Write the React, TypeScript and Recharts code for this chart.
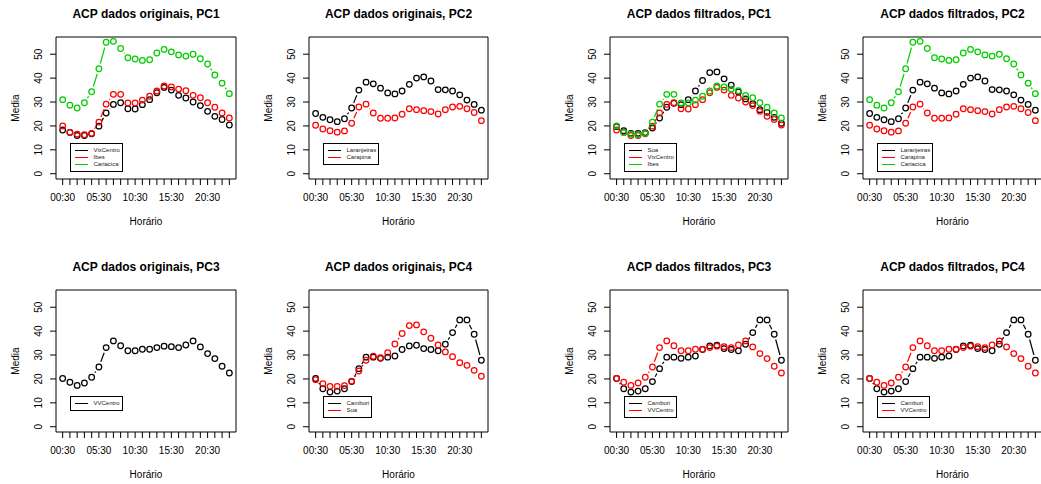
import { LineChart, Line, XAxis, YAxis, Legend, ReferenceArea } from "recharts";

// hourly means, 00:30 .. 23:30
const hours = [
  "00:30", "01:30", "02:30", "03:30", "04:30", "05:30", "06:30", "07:30",
  "08:30", "09:30", "10:30", "11:30", "12:30", "13:30", "14:30", "15:30",
  "16:30", "17:30", "18:30", "19:30", "20:30", "21:30", "22:30", "23:30",
];
const hourTickLabels = ["00:30", "05:30", "10:30", "15:30", "20:30"];
const mediaTicks = [0, 10, 20, 30, 40, 50];

const vixCentro = [18.3, 17.3, 16.0, 16.0, 16.7, 19.9, 25.4, 29.0, 29.7, 27.2, 27.1, 28.9, 31.0, 33.9, 36.1, 35.0, 32.8, 31.7, 30.0, 28.5, 26.1, 24.0, 22.7, 20.4];
const ibes = [20.0, 17.3, 16.6, 16.3, 16.9, 21.6, 29.1, 33.2, 33.2, 29.6, 29.6, 30.8, 32.4, 34.6, 36.7, 36.3, 35.4, 34.7, 32.8, 31.8, 29.7, 27.8, 25.4, 23.3];
const cariacica = [31.0, 28.7, 27.5, 29.7, 34.3, 43.9, 55.0, 55.4, 52.4, 48.5, 48.0, 47.4, 47.7, 50.5, 52.0, 51.0, 49.7, 49.2, 50.0, 48.1, 45.9, 41.3, 37.9, 33.5];
const laranjeiras = [25.2, 23.6, 22.6, 21.8, 23.0, 27.5, 35.0, 38.3, 37.6, 35.8, 33.8, 33.4, 34.6, 37.4, 40.0, 40.5, 38.8, 35.2, 35.1, 34.6, 33.0, 30.8, 29.0, 26.6];
const carapina = [20.3, 18.7, 18.0, 17.4, 17.9, 21.1, 27.9, 29.1, 25.4, 23.2, 23.2, 23.3, 24.9, 27.2, 26.8, 26.4, 26.0, 25.0, 26.8, 27.9, 28.2, 27.2, 25.6, 22.2];
const vvCentro = [20.2, 18.6, 17.3, 18.3, 20.7, 25.0, 33.1, 35.9, 33.9, 31.8, 31.8, 32.4, 32.4, 33.1, 33.7, 33.5, 33.1, 34.2, 35.9, 33.4, 30.6, 28.5, 25.3, 22.5];
const camburi = [20.2, 15.9, 14.5, 14.9, 15.9, 18.9, 24.3, 29.1, 29.1, 28.6, 29.1, 29.6, 32.3, 33.8, 34.1, 32.7, 32.3, 31.8, 34.5, 39.4, 44.7, 44.7, 38.7, 27.8];
const sua = [19.7, 18.0, 16.9, 16.9, 17.2, 19.1, 23.3, 27.8, 29.5, 28.9, 31.0, 34.6, 39.0, 42.3, 42.6, 39.7, 37.0, 34.2, 31.3, 29.3, 26.8, 25.7, 23.6, 21.1];

const stations: Record<string, number[]> = {
  VixCentro: vixCentro,
  Ibes: ibes,
  Cariacica: cariacica,
  Laranjeiras: laranjeiras,
  Carapina: carapina,
  VVCentro: vvCentro,
  Camburi: camburi,
  Sua: sua,
};

const palette = ["#000000", "#FF0000", "#00CD00"];
const FONT = "'Liberation Sans', Arial, Helvetica, sans-serif";

// R pads the axis range by 4% on each side
const xDomain = [1 - 0.92, 24 + 0.92];
const yDomain = [-2.2, 57.2];

const panels = [
  { title: "ACP dados originais, PC1", series: ["VixCentro", "Ibes", "Cariacica"], left: 56, top: 37, width: 180 },
  { title: "ACP dados originais, PC2", series: ["Laranjeiras", "Carapina"], left: 309, top: 37, width: 179 },
  { title: "ACP dados filtrados, PC1", series: ["Sua", "VixCentro", "Ibes"], left: 610, top: 37, width: 178 },
  { title: "ACP dados filtrados, PC2", series: ["Laranjeiras", "Carapina", "Cariacica"], left: 863, top: 37, width: 179 },
  { title: "ACP dados originais, PC3", series: ["VVCentro"], left: 56, top: 290, width: 180 },
  { title: "ACP dados originais, PC4", series: ["Camburi", "Sua"], left: 309, top: 290, width: 179 },
  { title: "ACP dados filtrados, PC3", series: ["Camburi", "VVCentro"], left: 610, top: 290, width: 178 },
  { title: "ACP dados filtrados, PC4", series: ["Camburi", "VVCentro"], left: 863, top: 290, width: 179 },
];

const PLOT_H = 142;
const Y_AXIS_W = 56;
const X_AXIS_H = 60;
const GAP = 5.5;

// points joined by segments that stop short of each circle, like plot(type = "b")
function pointsAndGaps(color: string) {
  return (props: any) => {
    const { cx, cy, index, points } = props;
    const next = points && points[index + 1];
    let seg = null;
    if (next && next.x != null && next.y != null) {
      const dx = next.x - cx;
      const dy = next.y - cy;
      const d = Math.hypot(dx, dy);
      if (d > 2 * GAP) {
        const ux = dx / d;
        const uy = dy / d;
        seg = (
          <line
            x1={cx + ux * GAP}
            y1={cy + uy * GAP}
            x2={next.x - ux * GAP}
            y2={next.y - uy * GAP}
            stroke={color}
            strokeWidth={1.2}
          />
        );
      }
    }
    return (
      <g key={`pt-${index}`}>
        {seg}
        <circle cx={cx} cy={cy} r={2.8} fill="none" stroke={color} strokeWidth={1.25} />
      </g>
    );
  };
}

function XTick(props: any) {
  const { x, y, payload } = props;
  const label = hours[payload.value - 1];
  if (!hourTickLabels.includes(label)) return <g />;
  return (
    <text x={x} y={y + 16} textAnchor="middle" fontSize={10} fontFamily={FONT} fill="#000">
      {label}
    </text>
  );
}

function YTick(props: any) {
  const { x, y, payload } = props;
  return (
    <text
      transform={`translate(${x - 12},${y}) rotate(-90)`}
      dy="0.35em"
      textAnchor="middle"
      fontSize={10}
      fontFamily={FONT}
      fill="#000"
    >
      {payload.value}
    </text>
  );
}

function StationLegend({ names }: { names: string[] }) {
  return (
    <div
      style={{
        border: "1px solid #000",
        background: "#fff",
        padding: "3px 2px 3px 4px",
        fontFamily: FONT,
        fontSize: 6,
        lineHeight: "7px",
        color: "#222",
      }}
    >
      {names.map((n, i) => (
        <div key={n} style={{ display: "flex", alignItems: "center", whiteSpace: "nowrap" }}>
          <span style={{ display: "inline-block", width: 13, height: 1.3, background: palette[i], marginRight: 6 }} />
          <span>{n}</span>
        </div>
      ))}
    </div>
  );
}

function Panel({ p }: { p: (typeof panels)[number] }) {
  const rows = hours.map((h, i) => {
    const row: Record<string, number | string> = { x: i + 1, hour: h };
    p.series.forEach((s) => {
      row[s] = stations[s][i];
    });
    return row;
  });
  const chartW = Y_AXIS_W + p.width + 12;
  const chartH = 37 + PLOT_H + X_AXIS_H;
  return (
    <div style={{ position: "absolute", left: p.left - Y_AXIS_W, top: p.top - 37, width: chartW, height: chartH }}>
      <div
        style={{
          position: "absolute",
          left: Y_AXIS_W,
          top: 7,
          width: p.width,
          textAlign: "center",
          fontFamily: FONT,
          fontWeight: "bold",
          fontSize: 12,
          lineHeight: "14px",
          color: "#000",
          whiteSpace: "nowrap",
        }}
      >
        {p.title}
      </div>
      <LineChart width={chartW} height={chartH} data={rows} margin={{ top: 37, right: 12, bottom: 0, left: 0 }}>
        <XAxis
          type="number"
          dataKey="x"
          domain={xDomain}
          ticks={hours.map((_, i) => i + 1)}
          interval={0}
          allowDataOverflow
          axisLine={false}
          tickLine={{ stroke: "#000" }}
          tickSize={6}
          tickMargin={0}
          tick={XTick}
          height={X_AXIS_H}
          label={{
            content: (lp: any) => {
              const vb = lp.viewBox || {};
              return (
                <text x={vb.x + vb.width / 2} y={vb.y + 45.5} textAnchor="middle" fontSize={10} fontFamily={FONT} fill="#000">
                  Horário
                </text>
              );
            },
          }}
        />
        <YAxis
          type="number"
          domain={yDomain}
          ticks={mediaTicks}
          interval={0}
          allowDataOverflow
          axisLine={false}
          tickLine={{ stroke: "#000" }}
          tickSize={6}
          tickMargin={0}
          tick={YTick}
          width={Y_AXIS_W}
          label={{
            content: (lp: any) => {
              const vb = lp.viewBox || {};
              const cx = vb.x + vb.width - 41;
              const cy = vb.y + vb.height / 2;
              return (
                <text
                  transform={`translate(${cx},${cy}) rotate(-90)`}
                  dy="0.35em"
                  textAnchor="middle"
                  fontSize={10}
                  fontFamily={FONT}
                  fill="#000"
                >
                  Media
                </text>
              );
            },
          }}
        />
        <ReferenceArea
          x1={xDomain[0]}
          x2={xDomain[1]}
          y1={yDomain[0]}
          y2={yDomain[1]}
          fill="none"
          stroke="#000"
          strokeWidth={1}
          ifOverflow="visible"
        />
        {p.series.map((s, i) => (
          <Line
            key={s}
            dataKey={s}
            name={s}
            stroke={palette[i]}
            strokeOpacity={0}
            dot={pointsAndGaps(palette[i])}
            activeDot={false}
            isAnimationActive={false}
          />
        ))}
        <Legend
          layout="vertical"
          align="center"
          verticalAlign="middle"
          wrapperStyle={{ left: Y_AXIS_W + 13.5, top: 37 + 106, width: "auto", right: "auto", bottom: "auto" }}
          content={() => <StationLegend names={p.series} />}
        />
      </LineChart>
    </div>
  );
}

export default function App() {
  return (
    <div
      style={{
        position: "absolute",
        left: 0,
        top: 0,
        width: 1041,
        height: 484,
        overflow: "hidden",
        background: "#fff",
      }}
    >
      {panels.map((p) => (
        <Panel key={p.title} p={p} />
      ))}
    </div>
  );
}
